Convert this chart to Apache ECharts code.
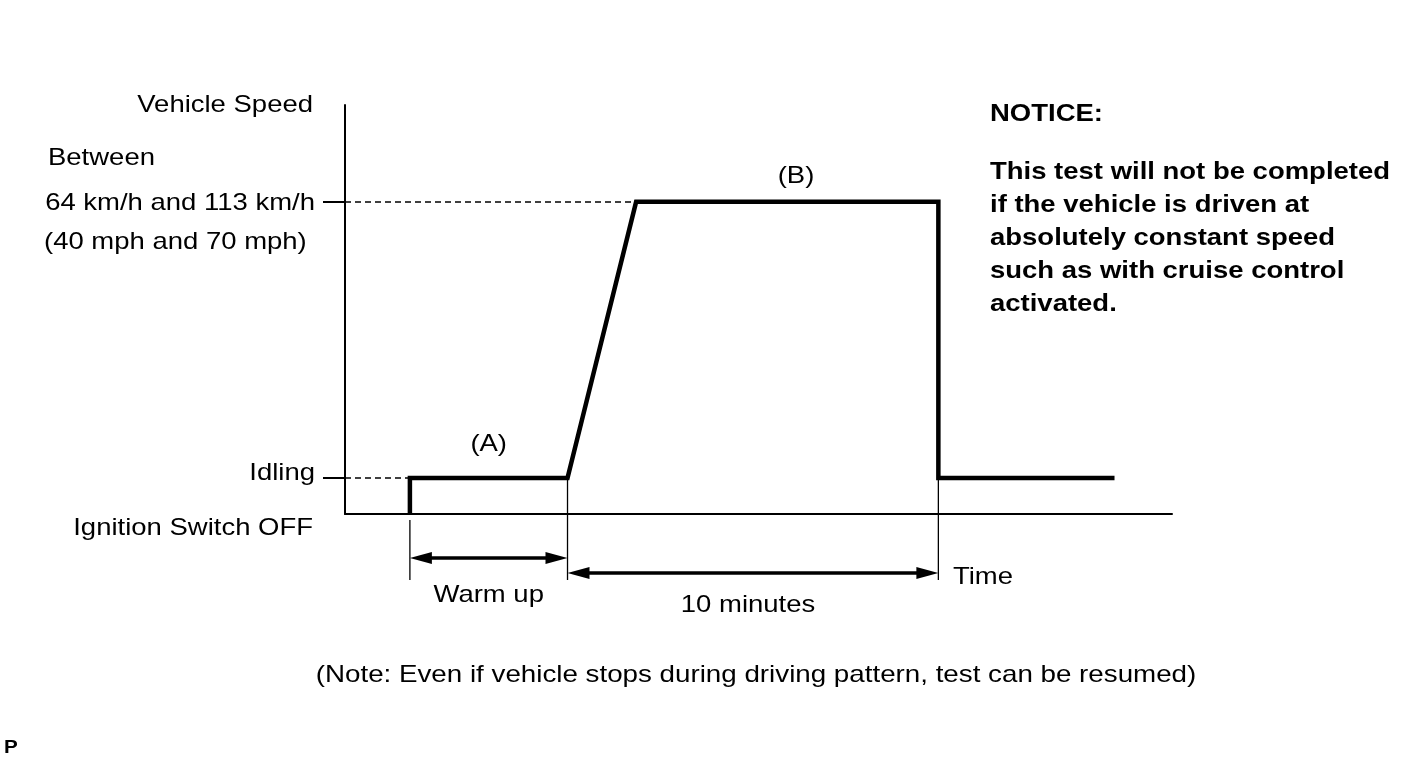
<!DOCTYPE html>
<html><head><meta charset="utf-8">
<script src="https://cdn.jsdelivr.net/npm/echarts@6/dist/echarts.min.js"></script>
<style>html,body{margin:0;padding:0;background:#fff}#c{width:1424px;height:759px}</style>
</head><body><div id="c"></div>
<script>
// ---- Data ----
// time in minutes from the axis origin; level: 0 = ignition off, 1 = idling, 8.67 = 64–113 km/h band
const profileTime  = [1.75, 1.75, 6.0, 7.85, 16.0, 16.0, 20.75];
const profileLevel = [0, 1, 1, 8.67, 8.67, 1, 1];
const tickLevels   = [1, 8.67];
const tickLabels   = ['Idling', '64 km/h and 113 km/h'];
const axisRangeTime  = [0, 22.3];
const axisRangeLevel = [0, 11.36];
const phaseLabels  = ['(A)', '(B)'];
const spanLabels   = ['Warm up', '10 minutes'];
const noticeTitle  = 'NOTICE:';
const noticeLines  = ['This test will not be completed', 'if the vehicle is driven at',
                      'absolutely constant speed', 'such as with cruise control', 'activated.'];
const noteText     = '(Note: Even if vehicle stops during driving pattern, test can be resumed)';

const FONT = 'Liberation Sans';
const SX = 1.145;
const DY = 2;
const chart = echarts.init(document.getElementById('c'), null, {renderer: 'canvas'});
const seriesData = profileTime.map((t, i) => [t, profileLevel[i]]);

chart.setOption({
  backgroundColor: '#ffffff',
  animation: false,
  grid: {left: 345, top: 105, width: 827, height: 409, containLabel: false},
  xAxis: {
    type: 'value', min: axisRangeTime[0], max: axisRangeTime[1],
    axisLine: {show: true, onZero: false, lineStyle: {color: '#000', width: 2}},
    axisTick: {show: false}, axisLabel: {show: false}, splitLine: {show: false}
  },
  yAxis: {
    type: 'value', min: axisRangeLevel[0], max: axisRangeLevel[1],
    axisLine: {show: true, lineStyle: {color: '#000', width: 2}},
    axisTick: {show: true, customValues: tickLevels, length: 22, lineStyle: {color: '#000', width: 2}},
    axisLabel: {show: false},
    splitLine: {show: false}
  },
  series: [{
    type: 'line', data: seriesData, symbol: 'none', silent: true,
    lineStyle: {color: '#000', width: 4.5, join: 'miter', cap: 'butt'},
    markLine: {
      silent: true, symbol: 'none', label: {show: false},
      lineStyle: {color: '#000', width: 1.6, type: [6, 4]},
      data: [
        [{coord: [axisRangeTime[0], profileLevel[1]]}, {coord: [profileTime[1], profileLevel[1]]}],
        [{coord: [axisRangeTime[0], profileLevel[3]]}, {coord: [profileTime[3], profileLevel[3]]}]
      ]
    }
  }]
});

function px(t, v) { return chart.convertToPixel({gridIndex: 0}, [t, v]); }
const pStart = px(profileTime[1], profileLevel[1]);
const pWarmEnd = px(profileTime[2], profileLevel[2]);
const pDropEnd = px(profileTime[5], profileLevel[5]);
const pBase = px(profileTime[0], profileLevel[0]);

const g = [];
function line(x1, y1, x2, y2, w) {
  g.push({type: 'line', silent: true, shape: {x1, y1, x2, y2}, style: {stroke: '#000', lineWidth: w}});
}
function arrow(x1, x2, y) {
  const L = 22, H = 6;
  line(x1 + 12, y, x2 - 12, y, 3.5);
  g.push({type: 'polygon', silent: true, shape: {points: [[x1, y], [x1 + L, y - H], [x1 + L, y + H]]}, style: {fill: '#000'}});
  g.push({type: 'polygon', silent: true, shape: {points: [[x2, y], [x2 - L, y - H], [x2 - L, y + H]]}, style: {fill: '#000'}});
}
function text(str, x, y, align, opts, sx) {
  g.push({type: 'text', silent: true, x, y: y + DY, scaleX: sx || SX, scaleY: 1, style: Object.assign({
    text: str, fill: '#000', font: '24px "' + FONT + '"', textAlign: align, textVerticalAlign: 'middle'
  }, opts || {})});
}

// dimension lines
line(pBase[0], pBase[1] + 6, pBase[0], 580, 1.3);
line(pWarmEnd[0], pWarmEnd[1], pWarmEnd[0], 580, 1.3);
line(pDropEnd[0], pDropEnd[1], pDropEnd[0], 580, 1.3);
arrow(pBase[0], pWarmEnd[0], 558);
arrow(pWarmEnd[0], pDropEnd[0], 573);

// y tick labels (positioned from the axis scale)
tickLevels.forEach((lv, i) => {
  const p = px(0, lv);
  text(tickLabels[i], p[0] - 30, p[1] - 7 + (i === 1 ? 7 : 0), 'right');
});

// labels
text(phaseLabels[0], (pStart[0] + pWarmEnd[0]) / 2, 442, 'center');
text(phaseLabels[1], 796, 174, 'center');
text(spanLabels[0], (pBase[0] + pWarmEnd[0]) / 2, 593, 'center');
text(spanLabels[1], 748, 603, 'center');
text('Time', 953, 575, 'left');

text('Vehicle Speed', 313, 103, 'right');
text('Between', 48, 156, 'left');
text('(40 mph and 70 mph)', 44, 240, 'left');
text('Ignition Switch OFF', 313, 526, 'right');

const bold = {font: 'bold 24px "' + FONT + '"'};
text(noticeTitle, 990, 112, 'left', bold);
noticeLines.forEach((s, i) => text(s, 990, 170 + i * 33, 'left', bold));

text(noteText, 756, 673, 'center', null, 1.156);
text('P', 4, 746, 'left', {font: 'bold 18px "' + FONT + '"'});

chart.setOption({graphic: g});
</script>
</body></html>
